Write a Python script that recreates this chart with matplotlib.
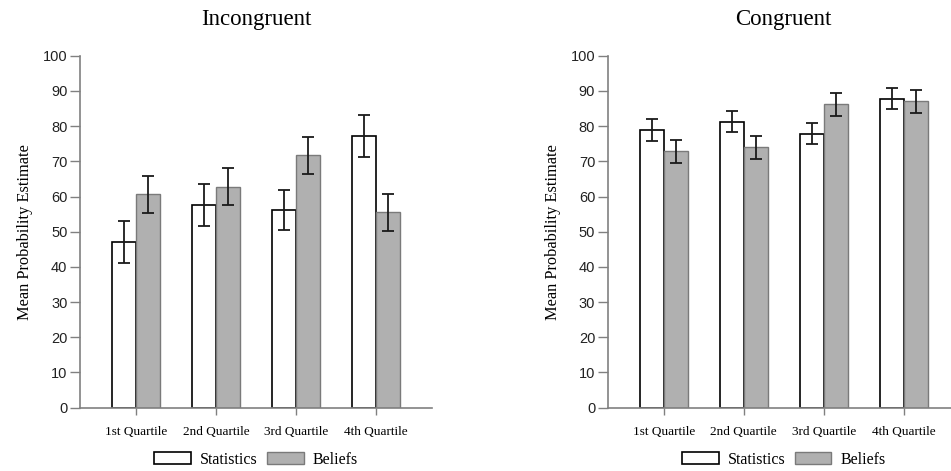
import numpy as np
import matplotlib.pyplot as plt
from matplotlib.patches import Patch

quartiles = ["1st Quartile", "2nd Quartile", "3rd Quartile", "4th Quartile"]

# Incongruent
inc_stats = [47.0, 57.6, 56.2, 77.1]
inc_stats_err = [6.0, 5.9, 5.7, 6.0]
inc_beliefs = [60.6, 62.8, 71.7, 55.5]
inc_beliefs_err = [5.3, 5.3, 5.2, 5.2]

# Congruent
con_stats = [79.0, 81.3, 77.9, 87.8]
con_stats_err = [3.1, 3.1, 3.0, 3.0]
con_beliefs = [72.8, 74.0, 86.2, 87.0]
con_beliefs_err = [3.2, 3.3, 3.2, 3.2]

serif = "Liberation Serif"
sans = "Liberation Sans"

fig = plt.figure(figsize=(9.51, 4.71), dpi=100)


def draw(ax, title, stats, stats_err, beliefs, beliefs_err):
    x = np.arange(len(quartiles))
    w = 0.3
    ekw = dict(ecolor="#1a1a1a", elinewidth=1.3, capsize=4, capthick=1.3)
    ax.bar(x - w / 2, stats, w, color="white", edgecolor="black", linewidth=1.2,
           yerr=stats_err, error_kw=ekw)
    ax.bar(x + w / 2, beliefs, w, color="#b0b0b0", edgecolor="#7a7a7a", linewidth=1.0,
           yerr=beliefs_err, error_kw=ekw)
    ax.set_xlim(-0.7, 3.7)
    ax.set_ylim(0, 100)
    ax.set_yticks(range(0, 101, 10))
    ax.set_xticks(x)
    ax.set_xticklabels(quartiles, fontfamily=serif, fontsize=9.5)
    for lab in ax.get_yticklabels():
        lab.set_fontfamily(sans)
        lab.set_fontsize(10.5)
        lab.set_color("#222222")
    ax.spines["top"].set_visible(False)
    ax.spines["right"].set_visible(False)
    for s in ("left", "bottom"):
        ax.spines[s].set_color("#808080")
        ax.spines[s].set_linewidth(1.2)
    ax.tick_params(axis="y", direction="out", length=7, color="#808080", width=1.0, pad=2)
    ax.tick_params(axis="x", direction="out", length=5, color="#808080", width=1.0, pad=8)
    ax.set_ylabel("Mean Probability Estimate", fontfamily=serif, fontsize=11.8, labelpad=7)
    ax.set_title(title, fontfamily=serif, fontsize=16.5, pad=22)
    handles = [Patch(facecolor="white", edgecolor="black", linewidth=1.2),
               Patch(facecolor="#b0b0b0", edgecolor="#7a7a7a")]
    leg = ax.legend(handles, ["Statistics", "Beliefs"], loc="center",
                    bbox_to_anchor=(0.5, -0.148), ncol=2, frameon=False,
                    prop={"family": serif, "size": 11.5}, handlelength=2.3,
                    handleheight=0.8, columnspacing=0.6, handletextpad=0.55,
                    borderpad=0.2)
    for t in leg.get_texts():
        t.set_fontfamily(serif)


ax1 = fig.add_axes([0.0841, 0.1344, 0.3701, 0.7473])
draw(ax1, "Incongruent", inc_stats, inc_stats_err, inc_beliefs, inc_beliefs_err)

ax2 = fig.add_axes([0.639, 0.1344, 0.3701, 0.7473])
draw(ax2, "Congruent", con_stats, con_stats_err, con_beliefs, con_beliefs_err)

fig.savefig("out.png", dpi=100)
